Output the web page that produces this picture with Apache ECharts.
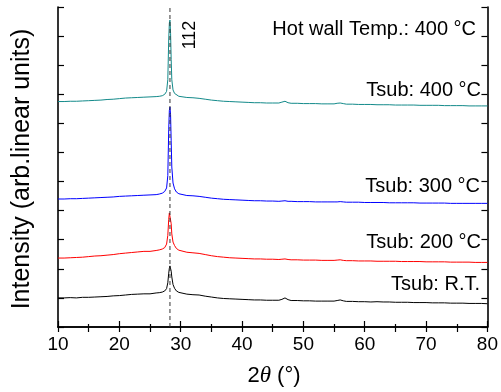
<!DOCTYPE html>
<html>
<head>
<meta charset="utf-8">
<script src="https://cdn.jsdelivr.net/npm/echarts@6/dist/echarts.min.js"></script>
<style>html,body{margin:0;padding:0;background:#fff;}#c{width:501px;height:392px;}</style>
</head>
<body>
<div id="c"></div>
<script>
// 2-theta sample positions (degrees)
const xs = [10,11,12,13,14,15,16,17,18,19,20,21,22,23,24,25,26,26.5,27,27.4,27.7,27.9,
  28.05,28.15,28.25,28.35,28.45,28.55,28.75,29.0,29.3,29.7,
  30,31,32,33,34,35,36,37,38,39,40,41,42,43,44,45,46,46.5,47,47.5,
  48,49,50,51,52,53,54,55,55.5,56,56.5,
  57,58,59,60,61,62,63,64,65,66,67,68,69,70,71,72,73,74,75,76,77,78,79,80];

// Tsub: R.T. (black)
const rtVals = [1.00,1.00,1.01,1.00,1.02,1.02,1.03,1.04,1.05,1.07,1.08,1.10,1.12,1.13,1.14,1.14,1.17,1.18,1.20,1.24,1.32,1.52,
  1.85,2.02,2.10,2.07,1.92,1.72,1.46,1.33,1.24,1.19,
  1.16,1.13,1.11,1.10,1.06,1.03,1.00,0.98,0.97,0.96,0.95,0.94,0.93,0.93,0.92,0.92,0.92,0.95,1.00,0.94,
  0.91,0.91,0.90,0.90,0.89,0.89,0.89,0.89,0.91,0.93,0.90,
  0.88,0.88,0.87,0.87,0.86,0.87,0.86,0.86,0.85,0.85,0.85,0.84,0.84,0.84,0.83,0.83,0.83,0.82,0.82,0.82,0.81,0.81,0.81,0.80];

// Tsub: 200 °C (red)
const t200Vals = [2.37,2.37,2.38,2.39,2.40,2.42,2.44,2.45,2.47,2.49,2.52,2.54,2.56,2.58,2.60,2.60,2.63,2.65,2.68,2.73,2.85,3.15,
  3.70,3.92,3.97,3.90,3.55,3.20,2.92,2.80,2.70,2.64,
  2.61,2.57,2.55,2.53,2.49,2.45,2.42,2.40,2.38,2.37,2.36,2.35,2.34,2.34,2.33,2.33,2.32,2.33,2.34,2.32,
  2.31,2.31,2.30,2.30,2.30,2.29,2.29,2.29,2.30,2.31,2.29,
  2.28,2.28,2.27,2.27,2.27,2.26,2.26,2.26,2.26,2.25,2.25,2.25,2.25,2.24,2.24,2.24,2.24,2.23,2.23,2.23,2.23,2.22,2.22,2.22];

// Tsub: 300 °C (blue)
const t300Vals = [4.40,4.40,4.41,4.41,4.42,4.43,4.44,4.45,4.46,4.47,4.49,4.50,4.51,4.52,4.53,4.54,4.55,4.57,4.60,4.66,4.78,5.20,
  6.80,7.45,7.56,7.30,6.40,5.50,4.95,4.75,4.64,4.58,
  4.55,4.52,4.51,4.49,4.46,4.43,4.41,4.39,4.38,4.37,4.36,4.35,4.34,4.34,4.33,4.33,4.32,4.33,4.34,4.32,
  4.32,4.31,4.31,4.31,4.30,4.30,4.30,4.30,4.30,4.31,4.30,
  4.29,4.29,4.29,4.28,4.28,4.28,4.28,4.27,4.27,4.27,4.27,4.27,4.26,4.26,4.26,4.26,4.26,4.25,4.25,4.25,4.25,4.25,4.25,4.25];

// Tsub: 400 °C (teal)
const t400Vals = [7.75,7.75,7.76,7.76,7.77,7.78,7.79,7.80,7.82,7.83,7.85,7.87,7.88,7.89,7.90,7.91,7.92,7.93,7.95,8.00,8.10,8.50,
  9.90,10.45,10.55,10.10,9.20,8.50,8.15,8.03,7.97,7.93,
  7.91,7.89,7.88,7.86,7.83,7.80,7.78,7.76,7.75,7.74,7.73,7.72,7.71,7.71,7.70,7.70,7.70,7.73,7.76,7.71,
  7.69,7.69,7.68,7.68,7.68,7.67,7.67,7.67,7.69,7.70,7.68,
  7.66,7.66,7.65,7.65,7.65,7.64,7.64,7.64,7.63,7.63,7.63,7.63,7.62,7.62,7.62,7.62,7.61,7.61,7.61,7.61,7.60,7.60,7.60,7.60];

const peak112 = 28.25;
const xTicks = [10,20,30,40,50,60,70,80];

const FONT = "'Liberation Sans', Arial, sans-serif";
const pair = arr => xs.map((x, i) => [x, arr[i]]);

const chart = echarts.init(document.getElementById('c'), null, {renderer: 'canvas'});
const lineAxis = {show: true, lineStyle: {color: '#000', width: 1.6}};
const option = {
  animation: false,
  backgroundColor: '#fff',
  grid: {left: 58, right: 11, top: 7, bottom: 65},
  xAxis: [
    {type: 'value', min: xTicks[0], max: xTicks[xTicks.length - 1], interval: 10, position: 'bottom',
     axisLine: lineAxis,
     axisTick: {inside: true, length: 6, lineStyle: {color: '#000', width: 1.2}},
     minorTick: {show: true, splitNumber: 2, length: 3, lineStyle: {color: '#000', width: 1.2}},
     axisLabel: {color: '#000', fontSize: 19, fontFamily: FONT, margin: 8},
     splitLine: {show: false}},
    {type: 'value', min: xTicks[0], max: xTicks[xTicks.length - 1], interval: 5, position: 'top',
     axisLine: lineAxis,
     axisTick: {inside: true, length: 5, lineStyle: {color: '#000', width: 1.2}},
     axisLabel: {show: false}, splitLine: {show: false}}
  ],
  yAxis: [
    {type: 'value', min: 0, max: 11, interval: 1, position: 'left',
     axisLine: lineAxis,
     axisTick: {inside: true, length: 6, lineStyle: {color: '#000', width: 1.2}},
     axisLabel: {show: false}, splitLine: {show: false}},
    {type: 'value', min: 0, max: 11, interval: 1, position: 'right',
     axisLine: lineAxis,
     axisTick: {inside: true, length: 6, lineStyle: {color: '#000', width: 1.2}},
     axisLabel: {show: false}, splitLine: {show: false}}
  ],
  series: [
    {name: 'R.T.', type: 'line', data: pair(rtVals), showSymbol: false, lineStyle: {color: '#000', width: 1}},
    {name: '200', type: 'line', data: pair(t200Vals), showSymbol: false, lineStyle: {color: '#ff0000', width: 1}},
    {name: '300', type: 'line', data: pair(t300Vals), showSymbol: false, lineStyle: {color: '#0000ff', width: 1}},
    {name: '400', type: 'line', data: pair(t400Vals), showSymbol: false, lineStyle: {color: '#138a8a', width: 1}},
    {name: '112', type: 'line', data: [[peak112, 0], [peak112, 11]], showSymbol: false,
     lineStyle: {color: '#333', width: 1, type: [4, 3]}}
  ],
  graphic: [
    {type: 'text', x: 22, y: 169, rotation: Math.PI / 2,
     style: {text: 'Intensity (arb.linear units)', fontSize: 25, fontFamily: FONT, fill: '#000', textAlign: 'center', textVerticalAlign: 'middle'}},
    {type: 'text', x: 274, y: 376,
     style: {text: '{n|2}{t|θ}{n| (°)}', textAlign: 'center', textVerticalAlign: 'middle', fill: '#000',
       rich: {n: {fontSize: 22, fontFamily: FONT, fill: '#000'}, t: {fontSize: 23, fontFamily: "'Liberation Serif', serif", fontStyle: 'italic', fill: '#000'}}}},
    {type: 'text', x: 190, y: 35, rotation: Math.PI / 2,
     style: {text: '112', fontSize: 18, fontFamily: FONT, fill: '#000', textAlign: 'center', textVerticalAlign: 'middle'}},
    {type: 'text', x: 476, y: 29,
     style: {text: 'Hot wall Temp.: 400 °C', fontSize: 20, fontFamily: FONT, fill: '#000', textAlign: 'right', textVerticalAlign: 'middle'}},
    {type: 'text', x: 481, y: 90,
     style: {text: 'Tsub: 400 °C', fontSize: 20, fontFamily: FONT, fill: '#000', textAlign: 'right', textVerticalAlign: 'middle'}},
    {type: 'text', x: 480, y: 186,
     style: {text: 'Tsub: 300 °C', fontSize: 20, fontFamily: FONT, fill: '#000', textAlign: 'right', textVerticalAlign: 'middle'}},
    {type: 'text', x: 481, y: 242,
     style: {text: 'Tsub: 200 °C', fontSize: 20, fontFamily: FONT, fill: '#000', textAlign: 'right', textVerticalAlign: 'middle'}},
    {type: 'text', x: 480, y: 284,
     style: {text: 'Tsub: R.T.', fontSize: 20, fontFamily: FONT, fill: '#000', textAlign: 'right', textVerticalAlign: 'middle'}}
  ]
};
chart.setOption(option);
</script>
</body>
</html>
